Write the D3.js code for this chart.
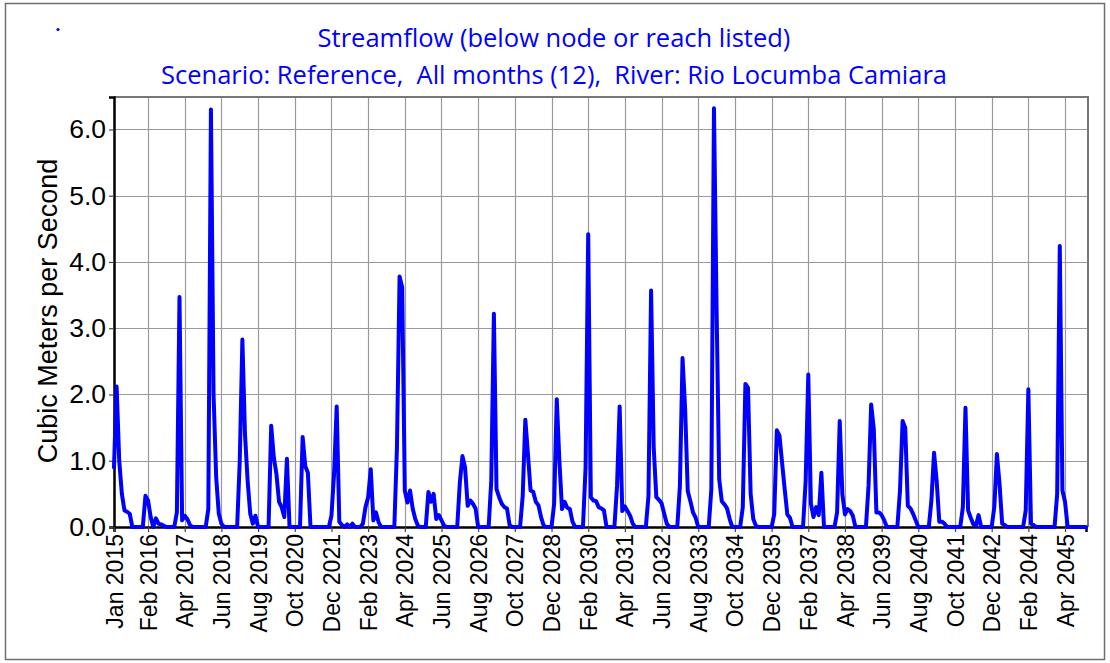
<!DOCTYPE html>
<html>
<head>
<meta charset="utf-8">
<script src="https://cdn.jsdelivr.net/npm/d3@7"></script>
<style>
  html, body { margin: 0; padding: 0; background: #fff; }
  svg { display: block; }
</style>
</head>
<body>
<svg id="chart" width="1110" height="663"></svg>
<script>
// ---------------- DATA ----------------
const titleLine1 = "Streamflow (below node or reach listed)";
const titleLine2 = "Scenario: Reference,  All months (12),  River: Rio Locumba Camiara";
const yAxisTitle = "Cubic Meters per Second";
const startYear = 2015;
const monthNames = ["Jan","Feb","Mar","Apr","May","Jun","Jul","Aug","Sep","Oct","Nov","Dec"];

// Monthly streamflow (m3/s), Jan 2015 .. Dec 2045, one row per year
const streamflow = [
  0.9, 2.12, 1.0, 0.5, 0.25, 0.23, 0.2, 0, 0, 0, 0, 0,          // 2015
  0.47, 0.4, 0.15, 0, 0.13, 0.05, 0.04, 0.02, 0, 0, 0, 0,        // 2016
  0.22, 3.47, 0.1, 0.17, 0.12, 0.03, 0, 0, 0, 0, 0, 0,           // 2017
  0.27, 6.3, 2.0, 0.75, 0.2, 0.05, 0, 0, 0, 0, 0, 0,             // 2018
  1.0, 2.83, 1.4, 0.7, 0.2, 0.05, 0.17, 0, 0, 0, 0, 0,           // 2019
  1.53, 1.05, 0.8, 0.38, 0.3, 0.15, 1.03, 0, 0, 0, 0, 0,         // 2020
  1.36, 0.92, 0.82, 0, 0, 0, 0, 0, 0, 0, 0, 0.17,                // 2021
  0.8, 1.82, 0.08, 0.03, 0, 0.04, 0, 0.05, 0, 0, 0, 0.05,        // 2022
  0.3, 0.45, 0.87, 0.1, 0.22, 0.07, 0, 0, 0, 0, 0, 0,            // 2023
  1.2, 3.78, 3.62, 0.55, 0.37, 0.55, 0.28, 0.12, 0.02, 0, 0, 0,  // 2024
  0.53, 0.38, 0.5, 0.12, 0.18, 0.1, 0.02, 0, 0, 0, 0, 0,         // 2025
  0.67, 1.07, 0.9, 0.32, 0.4, 0.35, 0.28, 0, 0, 0, 0, 0,         // 2026
  0.7, 3.22, 0.57, 0.45, 0.35, 0.3, 0.28, 0.03, 0, 0, 0, 0,      // 2027
  0.47, 1.62, 1.1, 0.55, 0.53, 0.38, 0.33, 0.15, 0.02, 0, 0, 0,  // 2028
  0.35, 1.93, 1.0, 0.27, 0.38, 0.29, 0.27, 0.08, 0, 0, 0, 0,     // 2029
  0.9, 4.42, 0.45, 0.4, 0.39, 0.3, 0.28, 0.25, 0, 0, 0, 0,       // 2030
  0.62, 1.82, 0.24, 0.31, 0.24, 0.17, 0.05, 0, 0, 0, 0, 0,       // 2031
  0.47, 3.57, 1.2, 0.45, 0.41, 0.36, 0.2, 0.05, 0, 0, 0, 0,      // 2032
  0.62, 2.55, 1.78, 0.54, 0.39, 0.22, 0.14, 0, 0, 0, 0, 0,       // 2033
  0.57, 6.32, 3.3, 0.72, 0.39, 0.34, 0.28, 0.12, 0, 0, 0, 0,     // 2034
  0.3, 2.16, 2.1, 0.5, 0.12, 0.02, 0, 0, 0, 0, 0, 0,             // 2035
  0.19, 1.46, 1.38, 0.97, 0.57, 0.19, 0.14, 0, 0, 0, 0, 0,       // 2036
  0.7, 2.3, 0.35, 0.15, 0.3, 0.18, 0.82, 0, 0, 0, 0, 0,          // 2037
  0.22, 1.6, 0.5, 0.19, 0.27, 0.24, 0.17, 0, 0, 0, 0, 0,         // 2038
  0.62, 1.85, 1.48, 0.22, 0.22, 0.18, 0.1, 0, 0, 0, 0, 0,        // 2039
  0.55, 1.6, 1.5, 0.32, 0.28, 0.2, 0.1, 0, 0, 0, 0, 0,           // 2040
  0.4, 1.12, 0.7, 0.08, 0.08, 0.05, 0, 0, 0, 0, 0, 0,            // 2041
  0.3, 1.8, 0.25, 0.14, 0.04, 0.02, 0.18, 0, 0, 0, 0, 0,         // 2042
  0.3, 1.1, 0.65, 0.05, 0.03, 0, 0, 0, 0, 0, 0, 0,               // 2043
  0.25, 2.08, 0.05, 0.03, 0, 0, 0, 0, 0, 0, 0, 0,                // 2044
  0.5, 4.24, 0.55, 0.38, 0, 0, 0, 0, 0, 0, 0, 0                  // 2045
];

const xTickLabels = ["Jan 2015","Feb 2016","Apr 2017","Jun 2018","Aug 2019","Oct 2020",
  "Dec 2021","Feb 2023","Apr 2024","Jun 2025","Aug 2026","Oct 2027","Dec 2028","Feb 2030",
  "Apr 2031","Jun 2032","Aug 2033","Oct 2034","Dec 2035","Feb 2037","Apr 2038","Jun 2039",
  "Aug 2040","Oct 2041","Dec 2042","Feb 2044","Apr 2045"];
const yTickValues = [0, 1, 2, 3, 4, 5, 6];
const yTickLabels = ["0.0","1.0","2.0","3.0","4.0","5.0","6.0"];
const yMax = 6.49;

// ---------------- CHART ----------------
const svg = d3.select("#chart");
const plot = { left: 114, right: 1087, top: 97, bottom: 527 };

const monthIndex = lbl => {
  const [m, y] = lbl.split(" ");
  return (+y - startYear) * 12 + monthNames.indexOf(m);
};

const x = d3.scaleLinear().domain([0, streamflow.length - 1]).range([plot.left, plot.right - 1]);
const y = d3.scaleLinear().domain([0, yMax]).range([plot.bottom, plot.top]);

// outer frame
svg.append("rect").attr("x", 5.5).attr("y", 3.5).attr("width", 1099).attr("height", 656)
  .attr("fill", "none").attr("stroke", "#6e6e6e").attr("stroke-width", 1.5);

// tiny dot
svg.append("circle").attr("cx", 58).attr("cy", 29.5).attr("r", 1.6).attr("fill", "#0000ff");

// titles
const titleFont = "'Open Sans', 'Noto Sans', sans-serif";
svg.append("text").attr("x", 554).attr("y", 47).attr("text-anchor", "middle")
  .attr("font-family", titleFont).attr("font-size", 25.5).attr("fill", "#0000ff")
  .attr("xml:space", "preserve").style("white-space", "pre").text(titleLine1);
svg.append("text").attr("x", 554).attr("y", 84).attr("text-anchor", "middle")
  .attr("font-family", titleFont).attr("font-size", 25.5).attr("fill", "#0000ff")
  .attr("xml:space", "preserve").style("white-space", "pre").text(titleLine2);

// grid
const xTickIdx = xTickLabels.map(monthIndex);
const grid = svg.append("g");
grid.selectAll("line.v").data(xTickIdx).join("line")
  .attr("x1", d => Math.round(x(d)) + 0.5).attr("x2", d => Math.round(x(d)) + 0.5)
  .attr("y1", plot.top).attr("y2", plot.bottom)
  .attr("stroke", "#9a9a9a").attr("stroke-width", 1.2);
grid.selectAll("line.h").data(yTickValues.slice(1)).join("line")
  .attr("x1", plot.left).attr("x2", plot.right)
  .attr("y1", d => Math.round(y(d)) + 0.5).attr("y2", d => Math.round(y(d)) + 0.5)
  .attr("stroke", "#9a9a9a").attr("stroke-width", 1.2);

// top & right frame of plot
svg.append("path")
  .attr("d", `M${plot.left},${plot.top}H${plot.right + 1}V${plot.bottom}`)
  .attr("fill", "none").attr("stroke", "#777").attr("stroke-width", 2);

// axes
const yAxis = d3.axisLeft(y).tickValues(yTickValues)
  .tickFormat((d, i) => yTickLabels[i]).tickSize(5).tickPadding(3);
const gy = svg.append("g").attr("transform", `translate(${plot.left},0)`).call(yAxis);
gy.select(".domain").attr("stroke", "#000").attr("stroke-width", 2.5);
gy.selectAll(".tick line").attr("stroke", "#444").attr("stroke-width", 1.2);
gy.selectAll(".tick text").attr("font-family", "'Liberation Sans', Arial, sans-serif")
  .attr("font-size", 26.5).attr("fill", "#000");

const xAxis = d3.axisBottom(x).tickValues(xTickIdx)
  .tickFormat((d, i) => xTickLabels[i]).tickSize(5);
const gx = svg.append("g").attr("transform", `translate(0,${plot.bottom})`).call(xAxis);
gx.select(".domain").attr("stroke", "#000").attr("stroke-width", 2.5);
gx.selectAll(".tick line").attr("stroke", "#444").attr("stroke-width", 1.2);
gx.selectAll(".tick text")
  .attr("font-family", "'Liberation Sans', Arial, sans-serif").attr("font-size", 23).attr("fill", "#000")
  .attr("text-anchor", "end").attr("x", -7).attr("y", 0).attr("dy", "0.35em")
  .attr("transform", "rotate(-90)");

// y axis title
svg.append("text").attr("transform", `translate(57,311) rotate(-90)`)
  .attr("text-anchor", "middle").attr("font-family", "'Liberation Sans', Arial, sans-serif")
  .attr("font-size", 27).attr("fill", "#000").text(yAxisTitle);

// series line
const line = d3.line().x((d, i) => x(i)).y(d => y(d));
svg.append("path").datum(streamflow).attr("d", line)
  .attr("fill", "none").attr("stroke", "#0000ff").attr("stroke-width", 4)
  .attr("stroke-linejoin", "round").attr("stroke-linecap", "round");
</script>
</body>
</html>
